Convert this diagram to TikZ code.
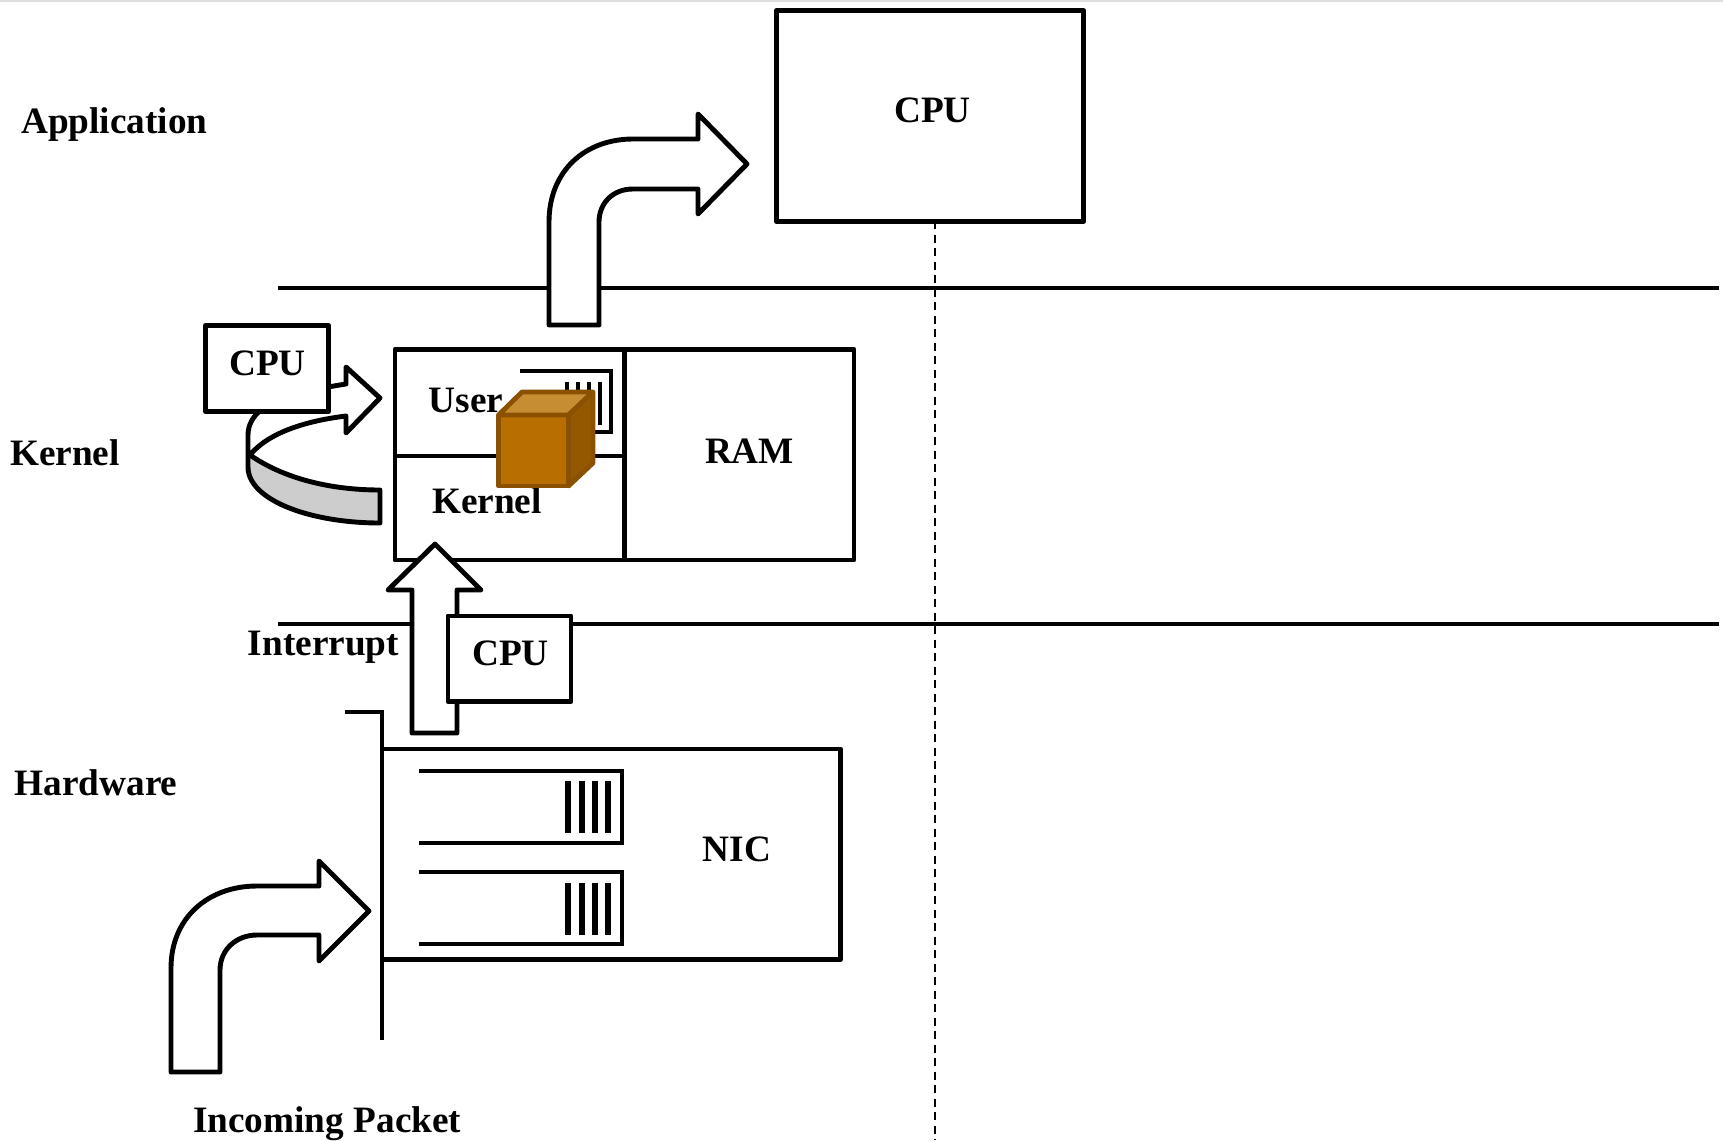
\documentclass[tikz,border=0pt]{standalone}
\usepackage{fontspec}
\setmainfont{Liberation Serif}
\definecolor{cubefront}{HTML}{B96F00}
\definecolor{cubetop}{HTML}{C78D33}
\definecolor{cubeside}{HTML}{945900}
\definecolor{cubeedge}{HTML}{8A5200}
\definecolor{curlgray}{HTML}{CDCDCD}
\tikzset{
  ln/.style={line width=4.9bp,line join=round,draw=black},
  boxn/.style={ln,rectangle,fill=white,inner sep=0pt,outer sep=0pt,anchor=north west},
  lbl/.style={font=\fontsize{37.4}{40}\selectfont\bfseries,anchor=base,inner sep=0pt,text=black},
  lblw/.style={lbl,anchor=base west},
  bigarrow/.style={ln,fill=white},
  bar/.style={line width=5.4bp,draw=black},
  smallbar/.style={line width=4.2bp,draw=black}
}
\begin{document}
\begin{tikzpicture}[x=1bp,y=-1bp]
\useasboundingbox (0,0) rectangle (1723,1140);
\fill[white] (0,0) rectangle (1723,1140);
\draw[draw=black!13,line width=1.5bp] (0,0.75) -- (1723,0.75);
% level lines and dashed separator
\coordinate (la) at (278,288); \coordinate (lb) at (1719,288);
\coordinate (lc) at (278,624); \coordinate (ld) at (1719,624);
\draw[ln] (la) -- (lb);
\draw[ln] (lc) -- (ld);
% top CPU
\node[boxn,minimum width=307bp,minimum height=211bp] (cpuTop) at (776.5,10.5) {};
\coordinate (dashEnd) at (935,1140);
\coordinate (dashStart) at (935,221);
\draw[line width=2.6bp,dash pattern=on 8bp off 5.5bp] (dashStart) -- (dashEnd);
\node[lbl] (cpuTopT) at (932.5,122) {CPU};
% top bent arrow
\draw[bigarrow] (549,325) -- (549,222) .. controls (549,171) and (585,139) .. (633,139) -- (698,139) -- (698,114) -- (747,164) -- (698,214) -- (698,189) -- (633,189) .. controls (612,189) and (599,204) .. (599,222) -- (599,325) -- cycle;
% curved arrow
\fill[curlgray] (250,455) .. controls (280,476) and (325,490) .. (380,490) -- (380,523) .. controls (310,523) and (248,500) .. (248,467) -- cycle;
\draw[bigarrow,fill=none] (380,490) -- (380,523) .. controls (310,523) and (248,500) .. (248,467) -- (248,435) .. controls (248,425) and (253,416) .. (262,409) .. controls (285,395) and (320,388) .. (346,384) -- (346,367) -- (380,398) -- (346,433) -- (346,416) .. controls (305,421) and (268,433) .. (250,455) .. controls (280,476) and (325,490) .. (380,490) -- cycle;
% left CPU
\node[boxn,minimum width=123bp,minimum height=86bp] (cpuLeft) at (205.5,325.5) {};
\node[lbl] (cpuLeftT) at (267.5,375) {CPU};
% RAM
\node[boxn,minimum width=459bp,minimum height=210.5bp] (ram) at (395,349.5) {};
\coordinate (divT) at (624.5,350); \coordinate (divB) at (624.5,560);
\draw[ln] (divT) -- (divB);
\coordinate (midL) at (395,456); \coordinate (midR) at (624,456);
\draw[ln] (midL) -- (midR);
\node[lbl] (ramT) at (749.5,463) {RAM};
\node[lbl] (userT) at (466,412.5) {User};
\node[lbl] (kernelT) at (487,513) {Kernel};
% queue in RAM
\draw[ln,line join=miter] (520,371) -- (611,371) -- (611,432) -- (540,432);
\foreach \qx in {567,578,589,600} \draw[smallbar] (\qx,382) -- (\qx,425);
% cube
\draw[line width=4.8bp,draw=cubeedge,line join=round,fill=cubefront] (498.5,415) rectangle (568.5,486);
\draw[line width=4.8bp,draw=cubeedge,line join=round,fill=cubetop] (498.5,415) -- (522,392) -- (593,392) -- (568.5,415) -- cycle;
\draw[line width=4.8bp,draw=cubeedge,line join=round,fill=cubeside] (568.5,415) -- (593,392) -- (593,463) -- (568.5,486) -- cycle;
% interrupt arrow
\draw[bigarrow] (412,733) -- (412,590) -- (388,590) -- (435,544) -- (481,590) -- (457,590) -- (457,733) -- cycle;
\node[lbl] (intT) at (323.5,655.5) {Interrupt};
% lower CPU
\node[boxn,minimum width=123bp,minimum height=85.5bp] (cpuLow) at (448,616) {};
\node[lbl] (cpuLowT) at (510.5,665.5) {CPU};
% NIC
\node[boxn,minimum width=458.5bp,minimum height=210.5bp] (nic) at (382,749) {};
\coordinate (brA) at (345,712); \coordinate (brB) at (382,712); \coordinate (brC) at (382,1040);
\draw[ln,line join=miter] (brA) -- (brB) -- (brC);
\node[lbl] (nicT) at (737,861) {NIC};
% NIC queues
\draw[ln,line join=miter] (419,771) -- (622,771) -- (622,843) -- (419,843);
\draw[ln,line join=miter] (419,872) -- (622,872) -- (622,944) -- (419,944);
\foreach \qx in {568,582,595,608} {
  \draw[bar] (\qx,781) -- (\qx,833);
  \draw[bar] (\qx,883) -- (\qx,935);
}
% incoming arrow
\draw[bigarrow] (171,1072) -- (171,968) .. controls (171,918) and (208,886) .. (257,886) -- (319,886) -- (319,861) -- (369,911) -- (319,961) -- (319,935) -- (257,935) .. controls (236,935) and (220,950) .. (220,970) -- (220,1072) -- cycle;
% labels
\node[lblw] (appL) at (21,133) {Application};
\node[lblw] (kerL) at (10,465) {Kernel};
\node[lblw] (hwL) at (14.5,795) {Hardware};
\node[lblw] (inL) at (193,1132) {Incoming Packet};
\end{tikzpicture}
\end{document}
